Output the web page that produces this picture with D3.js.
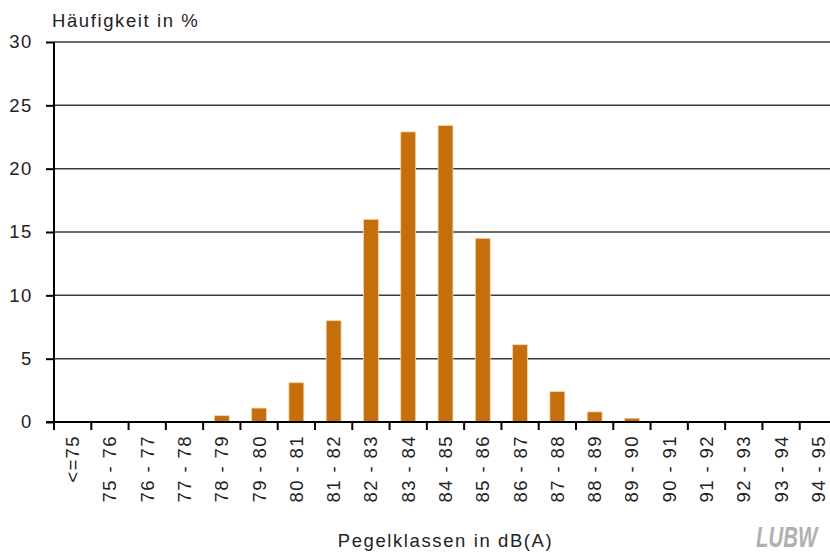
<!DOCTYPE html>
<html>
<head>
<meta charset="utf-8">
<script src="https://cdn.jsdelivr.net/npm/d3@7"></script>
<style>
  html, body { margin: 0; padding: 0; background: #fff; }
  svg { display: block; }
  text { font-family: "Liberation Sans", Arial, sans-serif; fill: #222; }
</style>
</head>
<body>
<svg id="chart" width="830" height="555"></svg>
<script>
const categories = ["<=75","75 - 76","76 - 77","77 - 78","78 - 79","79 - 80","80 - 81","81 - 82","82 - 83","83 - 84","84 - 85","85 - 86","86 - 87","87 - 88","88 - 89","89 - 90","90 - 91","91 - 92","92 - 93","93 - 94","94 - 95"];
const values = [0, 0, 0, 0, 0.5, 1.1, 3.1, 8.0, 16.0, 22.9, 23.4, 14.5, 6.1, 2.4, 0.8, 0.3, 0, 0, 0, 0, 0];
const yTicks = [0, 5, 10, 15, 20, 25, 30];
const yTitle = "Häufigkeit in %";
const xTitle = "Pegelklassen in dB(A)";

const svg = d3.select("#chart");
const mLeft = 54, mRight = 837, mTop = 42, mBottom = 422;
const fs = 18.5, ls = "1.6px";

const x = d3.scaleBand().domain(categories).range([mLeft, mRight]).paddingInner(0.6).paddingOuter(0.3);
const y = d3.scaleLinear().domain([0, 30]).range([mBottom, mTop]);

// gridlines
svg.append("g").selectAll("line").data(yTicks.filter(d => d > 0)).join("line")
  .attr("x1", mLeft).attr("x2", 830)
  .attr("y1", d => y(d)).attr("y2", d => y(d))
  .attr("stroke", "#3a3a3a").attr("stroke-width", 1.5);

// bars
const barData = values.map((v, i) => ({c: categories[i], v})).filter(d => d.v > 0);
svg.append("g").selectAll("rect").data(barData).join("rect")
  .attr("x", d => x(d.c)).attr("width", x.bandwidth())
  .attr("y", d => y(d.v)).attr("height", d => y(0) - y(d.v))
  .attr("fill", "#c46f0c").attr("stroke", "#f3d6ad").attr("stroke-width", 0.8);

// y axis
const yAxis = svg.append("g").attr("transform", `translate(${mLeft},0)`)
  .call(d3.axisLeft(y).tickValues(yTicks).tickSize(8).tickPadding(12).tickFormat(d3.format("d")));
yAxis.select(".domain").attr("stroke", "#000").attr("stroke-width", 2).attr("d", `M0,${mTop}V${mBottom}`);
yAxis.selectAll(".tick line").attr("stroke", "#000").attr("stroke-width", 2);
yAxis.selectAll(".tick text").attr("font-size", fs).attr("letter-spacing", ls).attr("dx", "-1px")
  .style("font-family", "'Liberation Sans', Arial, sans-serif").attr("fill", "#222");

// x axis baseline
svg.append("line").attr("x1", mLeft - 8).attr("x2", 830).attr("y1", mBottom).attr("y2", mBottom)
  .attr("stroke", "#000").attr("stroke-width", 2);

// x ticks at band boundaries
const boundaries = categories.map(c => x(c) + x.bandwidth() / 2 - x.step() / 2);
svg.append("g").selectAll("line").data(boundaries).join("line")
  .attr("x1", d => d).attr("x2", d => d).attr("y1", mBottom).attr("y2", mBottom + 8)
  .attr("stroke", "#000").attr("stroke-width", 2);

// x labels rotated
svg.append("g").selectAll("text").data(categories).join("text")
  .attr("transform", d => `translate(${x(d) + x.bandwidth() / 2},${mBottom + 13}) rotate(-90)`)
  .attr("text-anchor", "end").attr("dy", "0.35em")
  .attr("font-size", fs).attr("letter-spacing", "1.4px")
  .text(d => d);

// titles
svg.append("text").attr("x", 52).attr("y", 27).attr("font-size", fs)
  .attr("letter-spacing", ls).text(yTitle);
svg.append("text").attr("x", (mLeft + mRight) / 2).attr("y", 547).attr("text-anchor", "middle")
  .attr("font-size", fs).attr("letter-spacing", ls).text(xTitle);

// logo
svg.append("text").attr("transform", "translate(756,547) scale(0.68,1)").attr("font-size", 30)
  .attr("font-weight", "bold").attr("font-style", "italic")
  .style("fill", "#b0b0b0").text("LUBW");
</script>
</body>
</html>
